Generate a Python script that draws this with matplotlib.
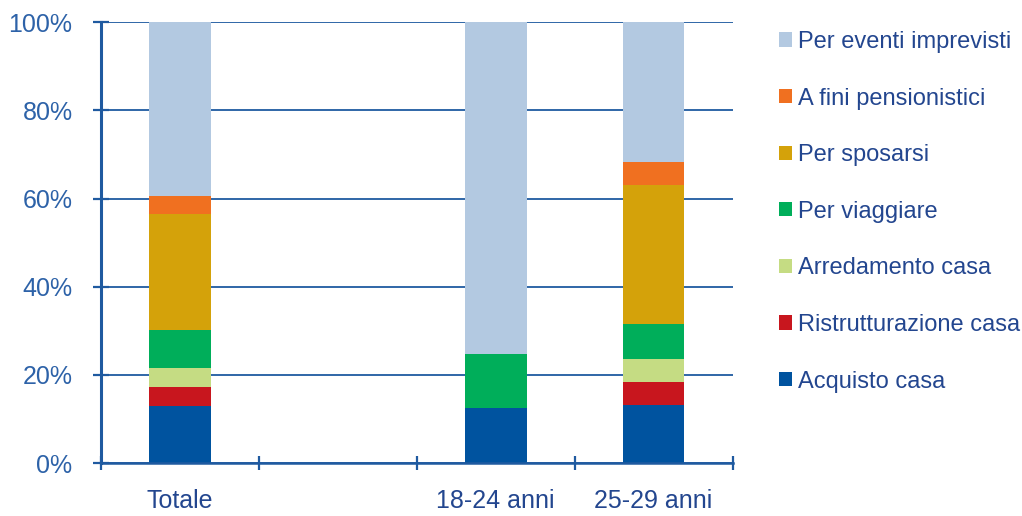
import matplotlib
matplotlib.use("Agg")
import matplotlib.pyplot as plt
import numpy as np
from matplotlib.patches import Patch
from matplotlib.ticker import FixedLocator, PercentFormatter

plt.rcParams['font.family'] = ['Liberation Sans', 'DejaVu Sans']

categories = ["Totale", "", "18-24 anni", "25-29 anni"]
series_names = ["Acquisto casa", "Ristrutturazione casa", "Arredamento casa",
                "Per viaggiare", "Per sposarsi", "A fini pensionistici",
                "Per eventi imprevisti"]
acquisto = [13.0, 0, 12.5, 13.1]
ristrutturazione = [4.2, 0, 0.0, 5.3]
arredamento = [4.3, 0, 0.0, 5.3]
viaggiare = [8.7, 0, 12.2, 7.8]
sposarsi = [26.2, 0, 0.0, 31.7]
pensionistici = [4.2, 0, 0.0, 5.0]
imprevisti = [39.4, 0, 75.3, 31.8]
y_ticks = [0, 20, 40, 60, 80, 100]

colors = ["#00539F", "#C8161E", "#C5DC83", "#00AE5A", "#D4A20A", "#F07020", "#B3C9E1"]
series = [acquisto, ristrutturazione, arredamento, viaggiare, sposarsi,
          pensionistici, imprevisti]

axis_blue = "#1F5AA0"
tick_text = "#2D62A8"
label_text = "#23468F"

fig = plt.figure(figsize=(10.22, 5.16), dpi=100)
ax = fig.add_axes([0.0988, 0.1027, 0.618, 0.854])

x = np.arange(len(categories))
bottom = np.zeros(len(categories))
for vals, col in zip(series, colors):
    v = np.array(vals, dtype=float)
    ax.bar(x, v, width=0.39, bottom=bottom, color=col, zorder=3, linewidth=0)
    bottom += v

ax.set_xlim(-0.5, len(categories) - 0.5)
ax.set_ylim(0, 100)
ax.yaxis.set_major_locator(FixedLocator(y_ticks))
ax.yaxis.set_major_formatter(PercentFormatter(decimals=0))
ax.grid(axis='y', color=axis_blue, linewidth=1.3, zorder=1)
ax.set_axisbelow(True)

ax.set_xticks(x)
ax.set_xticklabels(categories)
ax.set_xticks(np.arange(-0.5, len(categories), 1.0), minor=True)
ax.tick_params(axis='x', which='major', length=0, pad=19, labelsize=18, labelcolor=label_text)
ax.tick_params(axis='x', which='minor', direction='inout', length=10, width=1.6, color=axis_blue)
ax.tick_params(axis='y', direction='inout', length=11, width=1.6, color=axis_blue,
               labelsize=18, labelcolor=tick_text, pad=15)

for s in ['top', 'right']:
    ax.spines[s].set_visible(False)
ax.spines['left'].set_color(axis_blue)
ax.spines['left'].set_linewidth(2.2)
ax.spines['bottom'].set_color(axis_blue)
ax.spines['bottom'].set_linewidth(1.8)
ax.spines['left'].set_zorder(4)
ax.spines['bottom'].set_zorder(4)

handles = [Patch(facecolor=c, edgecolor='none') for c in colors][::-1]
labels = series_names[::-1]
leg = fig.legend(handles, labels, loc='upper left', bbox_to_anchor=(0.762, 0.94),
                 frameon=False, fontsize=17, handlelength=0.55, handleheight=0.55,
                 handletextpad=0.25, labelspacing=1.465, borderaxespad=0, borderpad=0)
for t in leg.get_texts():
    t.set_color(label_text)

fig.savefig("out.png", dpi=100)
